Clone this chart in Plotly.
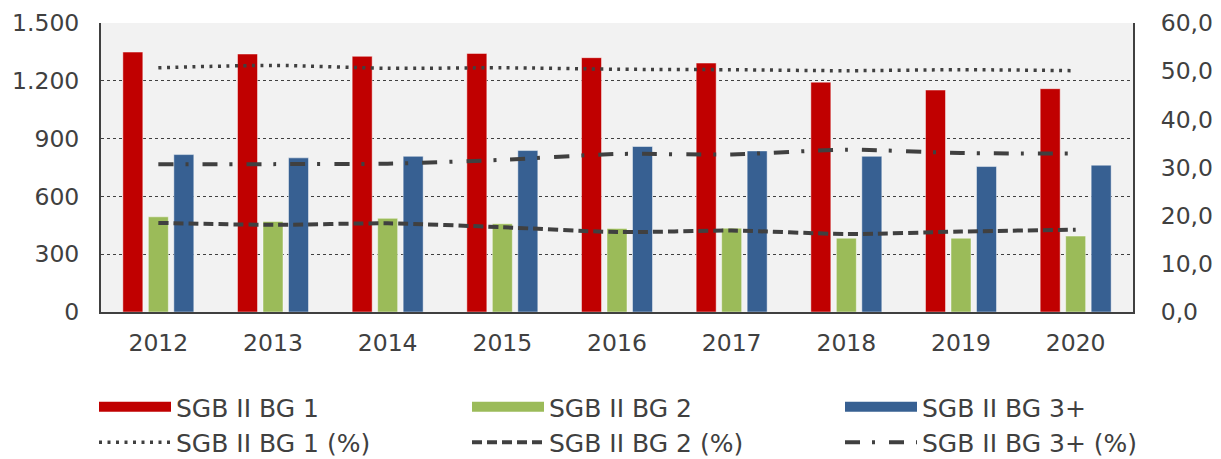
import plotly.graph_objects as go

years = ["2012", "2013", "2014", "2015", "2016", "2017", "2018", "2019", "2020"]
bg1 = [1349, 1339, 1327, 1342, 1320, 1292, 1193, 1152, 1159]
bg2 = [494, 470, 486, 458, 434, 435, 383, 383, 394]
bg3 = [817, 800, 808, 838, 859, 836, 808, 755, 762]
bg1_pct = [50.7, 51.2, 50.6, 50.7, 50.4, 50.3, 50.1, 50.3, 50.1]
bg2_pct = [18.5, 18.1, 18.4, 17.6, 16.6, 16.9, 16.2, 16.7, 17.1]
bg3_pct = [30.7, 30.7, 30.8, 31.6, 32.8, 32.7, 33.7, 33.0, 32.9]

left_ticks = [0, 300, 600, 900, 1200, 1500]
right_ticks = [0, 10, 20, 30, 40, 50, 60]

FONT = "DejaVu Sans"
TXT = "#404040"
LINE = "#404040"

# the page body has an 8px margin, so the figure is sized to fit inside the window
W, H = 1213, 451
ML, MR, MT, MB = 93, 88, 15, 147
PW, PH = W - ML - MR, H - MT - MB

fig = go.Figure()
rank = 1
for name, vals, col in [("SGB II BG 1", bg1, "#C00000"),
                        ("SGB II BG 2", bg2, "#9BBB59"),
                        ("SGB II BG 3+", bg3, "#376092")]:
    fig.add_trace(go.Bar(x=years, y=vals, name=name, legendgroup=name, showlegend=False,
                         marker=dict(color=col, line=dict(color="rgba(255,255,255,0.45)", width=1))))
    # legend key drawn as a wide filled bar, like the original
    fig.add_trace(go.Scatter(x=[None], y=[None], name=name, legendgroup=name, mode="lines",
                             line=dict(color=col, width=13), legendrank=rank))
    rank += 1

for name, vals, dash, w in [("SGB II BG 1 (%)", bg1_pct, "3px,5.5px", 3.5),
                            ("SGB II BG 2 (%)", bg2_pct, "10px,5px", 4),
                            ("SGB II BG 3+ (%)", bg3_pct, "15px,12px,3px,14px", 4)]:
    fig.add_trace(go.Scatter(x=years, y=vals, name=name, yaxis="y2", mode="lines", legendrank=rank,
                             line=dict(color=LINE, width=w, dash=dash, shape="spline", smoothing=0.8)))
    rank += 1

fig.update_layout(
    width=W, height=H,
    margin=dict(l=ML, r=MR, t=MT, b=MB, autoexpand=False),
    paper_bgcolor="white", plot_bgcolor="#F2F2F2",
    separators=",.",
    barmode="group", bargap=0.333, bargroupgap=0.216,
    font=dict(family=FONT, size=23.5, color=TXT),
    xaxis=dict(showline=True, linecolor=LINE, linewidth=2, mirror=False,
               ticks="", ticklabelstandoff=9, showgrid=False),
    yaxis=dict(range=[0, 1500], tickvals=left_ticks, tickformat=",d",
               showline=True, linecolor=LINE, linewidth=2,
               showgrid=True, gridcolor="#404040", gridwidth=1, griddash="dot",
               zeroline=False, ticks="", ticklabelstandoff=15),
    yaxis2=dict(range=[0, 60], tickvals=right_ticks, tickformat=".1f",
                overlaying="y", side="right", showline=True, linecolor=LINE, linewidth=2,
                showgrid=False, zeroline=False, ticks="", ticklabelstandoff=21),
    legend=dict(orientation="h",
                x=(86 - ML) / PW, y=(MT + PH - 376) / PH, xanchor="left", yanchor="top",
                entrywidth=286, entrywidthmode="pixels", itemwidth=72,
                font=dict(size=25, color=TXT), traceorder="normal"),
    showlegend=True,
)

fig.write_html("out.html")
